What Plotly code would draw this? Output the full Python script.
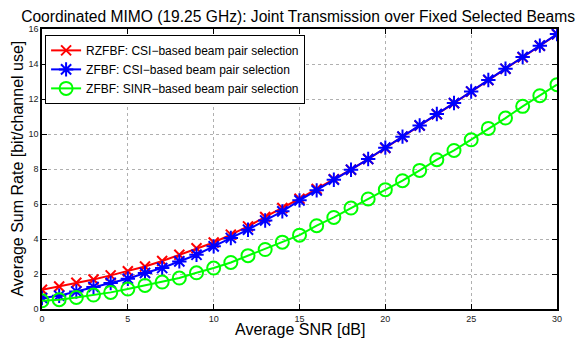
import plotly.graph_objects as go

snr = list(range(0, 31))
rzfbf_csi = [1.10, 1.29, 1.50, 1.69, 1.92, 2.16, 2.43, 2.74, 3.10, 3.47, 3.80, 4.25,
             4.72, 5.26, 5.77, 6.30, 6.86, 7.42, 7.96, 8.57, 9.20, 9.84, 10.48, 11.13,
             11.76, 12.42, 13.08, 13.72, 14.39, 15.04, 15.70]
zfbf_csi = [0.63, 0.76, 1.00, 1.26, 1.49, 1.73, 2.06, 2.34, 2.72, 3.10, 3.58, 4.06,
            4.53, 5.06, 5.58, 6.21, 6.78, 7.39, 7.96, 8.57, 9.22, 9.85, 10.49, 11.14,
            11.77, 12.43, 13.09, 13.73, 14.40, 15.05, 15.71]
zfbf_sinr = [0.47, 0.53, 0.66, 0.80, 0.95, 1.14, 1.35, 1.54, 1.77, 2.07, 2.34, 2.66,
             3.05, 3.40, 3.82, 4.22, 4.76, 5.23, 5.77, 6.29, 6.82, 7.33, 7.92, 8.53,
             9.06, 9.67, 10.32, 10.91, 11.58, 12.19, 12.82]

names = ["RZFBF: CSI\u2212based beam pair selection",
         "ZFBF: CSI\u2212based beam pair selection",
         "ZFBF: SINR\u2212based beam pair selection"]
x_title = "Average SNR [dB]"
y_title = "Average Sum Rate [bit/channel use]"
main_title = "Coordinated MIMO (19.25 GHz): Joint Transmission over Fixed Selected Beams"

fig = go.Figure()
fig.add_trace(go.Scatter(x=snr, y=rzfbf_csi, name=names[0], mode="lines+markers",
                         line=dict(color="#ff0000", width=2),
                         marker=dict(symbol="x-thin-open", size=10,
                                     line=dict(color="#ff0000", width=2))))
fig.add_trace(go.Scatter(x=snr, y=zfbf_csi, name=names[1], mode="lines+markers",
                         line=dict(color="#0000ff", width=2),
                         marker=dict(symbol="asterisk-open", size=12,
                                     line=dict(color="#0000ff", width=2))))
fig.add_trace(go.Scatter(x=snr, y=zfbf_sinr, name=names[2], mode="lines+markers",
                         line=dict(color="#00ff00", width=2),
                         marker=dict(symbol="circle-open", size=13,
                                     line=dict(color="#00ff00", width=2))))

axis_common = dict(showline=True, linecolor="black", linewidth=1.5, mirror="ticks",
                   ticks="inside", ticklen=5, tickcolor="black", automargin=False,
                   showgrid=True, gridcolor="#b0b0b0", griddash="dot", gridwidth=1,
                   zeroline=False, tickfont=dict(family="Liberation Sans, Arial", size=9, color="#222"))

# page body has an 8px margin, so the figure is sized/positioned to compensate
fig.update_layout(
    width=579, height=331,
    margin=dict(l=34, r=30, t=21, b=30),
    paper_bgcolor="white", plot_bgcolor="white",
    font=dict(family="Liberation Sans, Arial", color="black"),
    title=dict(text=main_title, x=0.501, xanchor="center", y=0.992, yanchor="top",
               pad=dict(t=0, b=0), font=dict(size=15.6, color="black")),
    xaxis=dict(range=[0, 30], tickvals=[0, 5, 10, 15, 20, 25, 30], **axis_common),
    yaxis=dict(range=[0, 16], tickvals=[0, 2, 4, 6, 8, 10, 12, 14, 16], **axis_common),
    legend=dict(x=0.006, y=0.979, xanchor="left", yanchor="top",
                bgcolor="white", bordercolor="black", borderwidth=1,
                font=dict(size=12), tracegroupgap=0, itemwidth=30),
    showlegend=True,
    annotations=[
        dict(text=x_title, xref="paper", yref="paper", x=0.5, y=-0.034,
             xanchor="center", yanchor="top", showarrow=False, font=dict(size=16)),
        dict(text=y_title, xref="paper", yref="paper", x=-0.029, y=0.5,
             xanchor="right", yanchor="middle", textangle=-90, showarrow=False,
             font=dict(size=16)),
    ],
)

fig.write_html("out.html")
